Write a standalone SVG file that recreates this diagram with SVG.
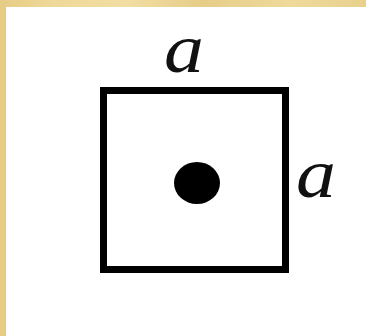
<svg xmlns="http://www.w3.org/2000/svg" width="366" height="336" viewBox="0 0 366 336">
<defs>
<linearGradient id="gold" x1="0" y1="0" x2="1" y2="0">
<stop offset="0" stop-color="#e6cc85"/>
<stop offset="0.15" stop-color="#efd999"/>
<stop offset="0.35" stop-color="#f2dea3"/>
<stop offset="0.55" stop-color="#e6cd88"/>
<stop offset="0.8" stop-color="#efda9b"/>
<stop offset="1" stop-color="#e8d08c"/>
</linearGradient>
<style>
.lbl{font-family:"Liberation Serif",serif;font-style:italic;font-size:70px;fill:#111;}
</style>
</defs>
<rect x="0" y="0" width="366" height="336" fill="#ffffff"/>
<rect x="0" y="0" width="366" height="7" fill="url(#gold)"/>
<rect x="0" y="0" width="6" height="336" fill="#e6cc85"/>
<g id="square">
<rect x="103.5" y="90.5" width="182" height="179" fill="#ffffff" stroke="#000" stroke-width="7"/>
</g>
<g id="dot">
<ellipse cx="197" cy="183" rx="23" ry="21" fill="#000"/>
</g>
<g id="label-top">
<text class="lbl" transform="translate(164,72) scale(1.14,1)">a</text>
</g>
<g id="label-right">
<text class="lbl" transform="translate(296,197) scale(1.14,1)">a</text>
</g>
</svg>
